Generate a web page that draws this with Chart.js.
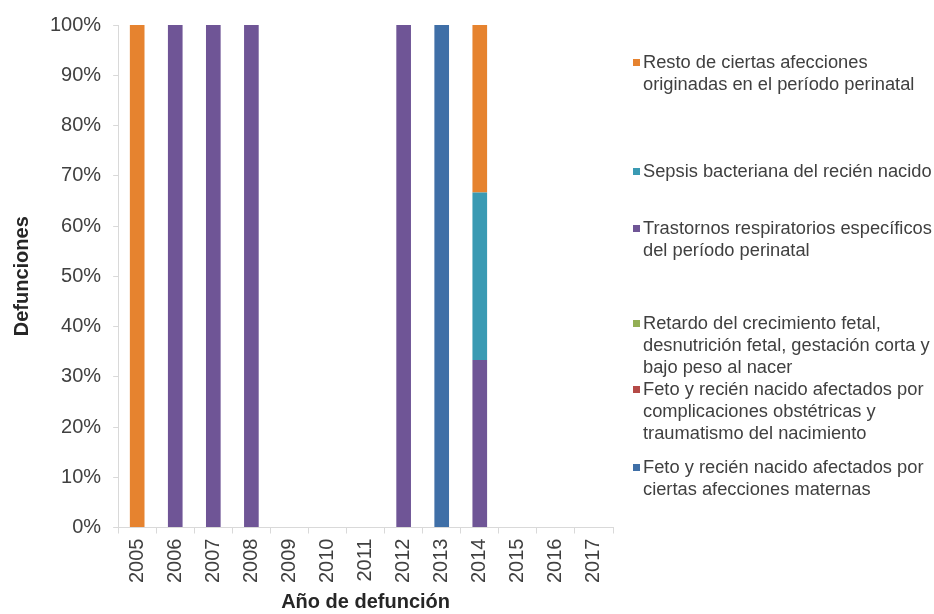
<!DOCTYPE html>
<html lang="es">
<head>
<meta charset="utf-8">
<script src="https://cdn.jsdelivr.net/npm/chart.js@4.4.1/dist/chart.umd.min.js"></script>
<style>
	html, body { margin: 0; padding: 0; background: #fff; }
	#wrap { position: relative; width: 934px; height: 614px; overflow: hidden; }
	#chart { position: absolute; left: 0; top: 0; }
	.legend-item {
		position: absolute;
		left: 633px;
		padding-left: 10px;
		font-family: "Liberation Sans", Arial, sans-serif;
		font-size: 18.3px;
		line-height: 22px;
		color: #404040;
		white-space: pre;
	}
	.legend-dot { position: absolute; left: 0; top: 8px; width: 7px; height: 7px; }
</style>
</head>
<body>
<div id="wrap">
	<canvas id="chart" width="934" height="614"></canvas>
	<div id="legend"></div>
</div>
<script>
// ─── Data ───────────────────────────────────────
const years = ["2005", "2006", "2007", "2008", "2009", "2010", "2011", "2012", "2013", "2014", "2015", "2016", "2017"];

// porcentaje de defunciones por causa (apilado, de abajo hacia arriba)
const maternas       = [0, 0, 0, 0, 0, 0, 0, 0, 100, 0, 0, 0, 0];
const complicaciones = [0, 0, 0, 0, 0, 0, 0, 0, 0, 0, 0, 0, 0];
const retardo        = [0, 0, 0, 0, 0, 0, 0, 0, 0, 0, 0, 0, 0];
const trastornos     = [0, 100, 100, 100, 0, 0, 0, 100, 0, 33.33, 0, 0, 0];
const sepsis         = [0, 0, 0, 0, 0, 0, 0, 0, 0, 33.33, 0, 0, 0];
const resto          = [100, 0, 0, 0, 0, 0, 0, 0, 0, 33.34, 0, 0, 0];

const yTickLabels = ["0%", "10%", "20%", "30%", "40%", "50%", "60%", "70%", "80%", "90%", "100%"];

const seriesLabels = [
	"Feto y recién nacido afectados por\nciertas afecciones maternas",
	"Feto y recién nacido afectados por\ncomplicaciones obstétricas y\ntraumatismo del nacimiento",
	"Retardo del crecimiento fetal,\ndesnutrición fetal, gestación corta y\nbajo peso al nacer",
	"Trastornos respiratorios específicos\ndel período perinatal",
	"Sepsis bacteriana del recién nacido",
	"Resto de ciertas afecciones\noriginadas en el período perinatal",
];
const seriesData = [maternas, complicaciones, retardo, trastornos, sepsis, resto];
const seriesColors = ["#3f6fa7", "#b54a47", "#93af55", "#6f5596", "#3a9ab3", "#e6832f"];

// posición vertical (px) de cada entrada de la leyenda, de arriba hacia abajo
const legendTops = [51, 160, 217, 312, 378, 456];

// ─── Chart ──────────────────────────────────────
const FONT = "'Liberation Sans', Arial, sans-serif";
const gridGray = "#d9d9d9";

const datasets = seriesData.map((data, i) => ({
	label: seriesLabels[i].replace(/\n/g, " "),
	data,
	backgroundColor: seriesColors[i],
	borderWidth: 0,
	categoryPercentage: 1,
	barPercentage: 0.385,
}));

new Chart(document.getElementById("chart"), {
	type: "bar",
	data: { labels: years, datasets },
	options: {
		responsive: false,
		animation: false,
		devicePixelRatio: 1,
		layout: { padding: { top: 25, right: 321, bottom: 0, left: 6 } },
		plugins: { legend: { display: false }, tooltip: { enabled: false } },
		scales: {
			x: {
				stacked: true,
				grid: { display: true, drawOnChartArea: false, tickLength: 6, color: gridGray, offset: true },
				border: { color: gridGray },
				ticks: {
					color: "#404040",
					font: { family: FONT, size: 20 },
					minRotation: 90,
					maxRotation: 90,
					padding: 5,
				},
				title: {
					display: true,
					text: "Año de defunción",
					color: "#262626",
					font: { family: FONT, size: 20, weight: "bold" },
					padding: { top: 2, bottom: 0 },
				},
			},
			y: {
				stacked: true,
				min: 0,
				max: 100,
				grid: { display: true, drawOnChartArea: false, tickLength: 5, color: gridGray },
				border: { color: gridGray },
				ticks: {
					stepSize: 10,
					color: "#404040",
					font: { family: FONT, size: 20 },
					padding: 12,
					callback: (v, i) => yTickLabels[i],
				},
				title: {
					display: true,
					text: "Defunciones",
					color: "#262626",
					font: { family: FONT, size: 20, weight: "bold" },
					padding: { top: 4, bottom: 4 },
				},
			},
		},
	},
});

// ─── Legend (de arriba hacia abajo) ─────────────
const legend = document.getElementById("legend");
legend.innerHTML = seriesLabels
	.map((lbl, i) => ({ lbl, color: seriesColors[i] }))
	.reverse()
	.map(
		(d, i) =>
			`<div class="legend-item" style="top:${legendTops[i]}px"><span class="legend-dot" style="background:${d.color}"></span>${d.lbl}</div>`
	)
	.join("");
</script>
</body>
</html>
